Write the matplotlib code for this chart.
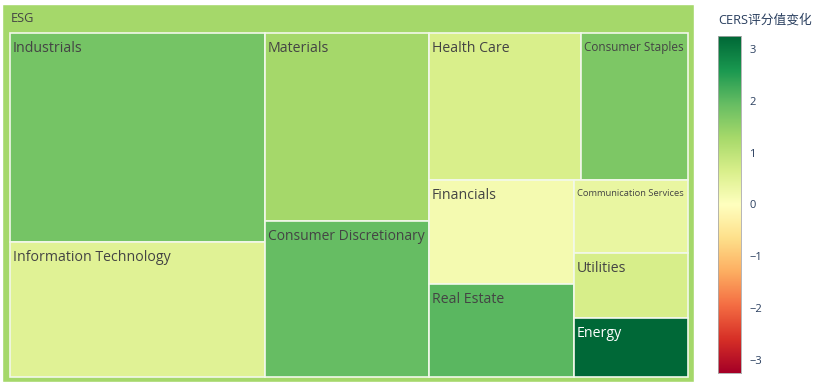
import matplotlib
matplotlib.use("Agg")
import matplotlib.pyplot as plt
from matplotlib.patches import Rectangle
from matplotlib.colors import LinearSegmentedColormap, Normalize
import numpy as np

plt.rcParams['font.family'] = ['Open Sans', 'Noto Sans CJK SC', 'DejaVu Sans']

# ---- data ----
root_label = "ESG"
sectors = ["Industrials", "Information Technology", "Materials", "Consumer Discretionary",
           "Health Care", "Consumer Staples", "Financials", "Real Estate",
           "Communication Services", "Utilities", "Energy"]
counts = [71, 46, 41, 34, 30, 21, 20, 18, 11, 10, 9]
score_change = [1.8, 0.52, 1.3, 1.95, 0.65, 1.73, 0.2, 2.05, 0.36, 0.68, 3.26]
cbar_title = "CERS评分值变化"
cbar_ticks = [-3, -2, -1, 0, 1, 2, 3]

# ---- colormap (RdYlGn) ----
rdylgn = ['#a50026', '#d73027', '#f46d43', '#fdae61', '#fee08b', '#ffffbf',
          '#d9ef8b', '#a6d96a', '#66bd63', '#1a9850', '#006837']
cmap = LinearSegmentedColormap.from_list("rdylgn", rdylgn)
vmax = max(abs(v) for v in score_change)
norm = Normalize(-vmax, vmax)

W, H = 814, 386
fig = plt.figure(figsize=(W / 100, H / 100), dpi=100)
ax = fig.add_axes([0, 0, 1, 1])
ax.set_xlim(0, W)
ax.set_ylim(H, 0)
ax.axis('off')


def worst(row, side):
    s = sum(row)
    return max(max(side * side * r / (s * s), (s * s) / (side * side * r)) for r in row)


def squarify(vals, x, y, w, h):
    total = sum(vals)
    areas = [v * w * h / total for v in vals]
    rects = []
    i = 0
    while i < len(areas):
        side = min(w, h)
        row = [areas[i]]
        j = i + 1
        while j < len(areas) and worst(row + [areas[j]], side) <= worst(row, side):
            row.append(areas[j])
            j += 1
        s = sum(row)
        if w >= h:  # column on the left
            cw = s / h
            yy = y
            for a in row:
                rh = a / cw
                rects.append((x, yy, cw, rh))
                yy += rh
            x += cw
            w -= cw
        else:  # row on top
            rh = s / w
            xx = x
            for a in row:
                cw = a / rh
                rects.append((xx, y, cw, rh))
                xx += cw
            y += rh
            h -= rh
        i = j
    return rects


# root
root_val = np.average(score_change, weights=counts)
rx0, ry0, rx1, ry1 = 2, 4, 694, 382
ax.add_patch(Rectangle((rx0, ry0), rx1 - rx0, ry1 - ry0, facecolor=cmap(norm(root_val)),
                       edgecolor='white', linewidth=1.0))
ax.text(rx0 + 9, ry0 + 15, root_label, fontsize=9.2, color='#444444', va='center', ha='left')

cx0, cy0, cx1, cy1 = 10, 33, 688, 377
rects = squarify(counts, cx0, cy0, cx1 - cx0, cy1 - cy0)

fig.canvas.draw()
renderer = fig.canvas.get_renderer()

for (x, y, w, h), lab, v in zip(rects, sectors, score_change):
    col = cmap(norm(v))
    ax.add_patch(Rectangle((x, y), w, h, facecolor=col, edgecolor='#f2f8ea', linewidth=1.2))
    lum = 0.299 * col[0] + 0.587 * col[1] + 0.114 * col[2]
    tc = 'white' if lum < 0.5 else '#444444'
    fs = 10.2
    t = ax.text(x + 3, y + 15.5, lab, fontsize=fs, color=tc, va='center', ha='left')
    bb = t.get_window_extent(renderer)
    avail = w - 7
    if bb.width > avail:
        fs = fs * avail / bb.width
        t.set_fontsize(fs)
        t.set_y(y + 8 + fs * 0.75)

# colorbar
cax = fig.add_axes([718 / W, 1 - 373 / H, 23 / W, (373 - 36) / H])
grad = np.linspace(-vmax, vmax, 256).reshape(-1, 1)
cax.imshow(grad, cmap=cmap, norm=norm, aspect='auto', origin='lower',
           extent=[0, 1, -vmax, vmax])
cax.set_xlim(0, 1)
cax.set_ylim(-vmax, vmax)
cax.set_xticks([])
cax.yaxis.tick_right()
cax.set_yticks(cbar_ticks)
cax.set_yticklabels([str(t).replace('-', '\u2212') for t in cbar_ticks])
cax.tick_params(axis='y', length=0, pad=6, labelsize=8, labelcolor='#2a3f5f')
for s in cax.spines.values():
    s.set_color('#aaaaaa')
    s.set_linewidth(0.6)

fig.text(718 / W, 1 - 20 / H, cbar_title, fontsize=9.2, color='#2a3f5f', va='center', ha='left')

fig.savefig("out.png", dpi=100)
